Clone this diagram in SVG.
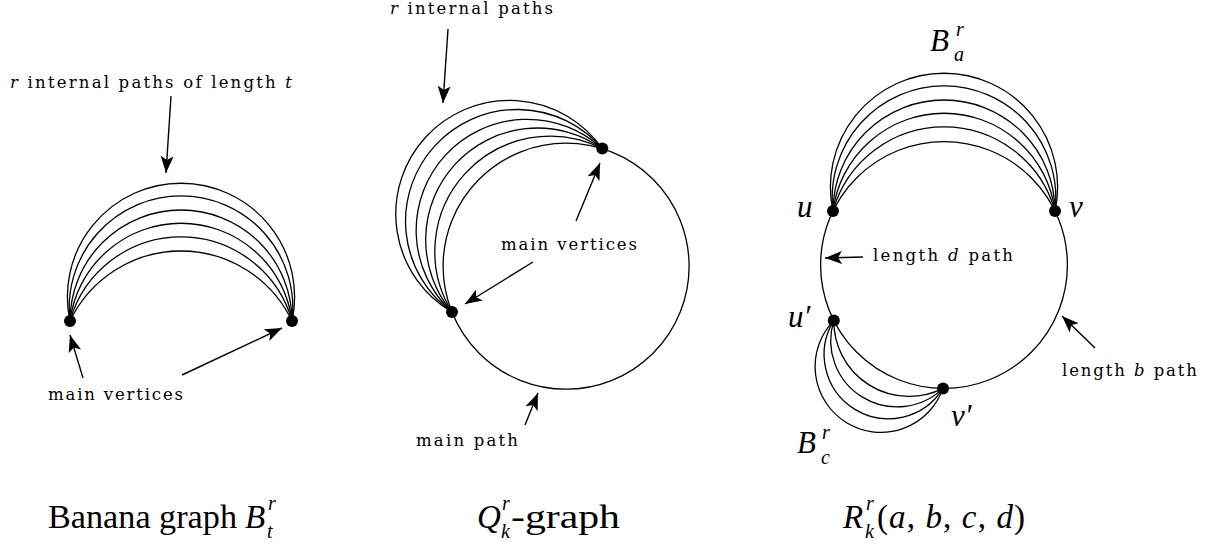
<svg xmlns="http://www.w3.org/2000/svg" width="1206" height="544" viewBox="0 0 1206 544">
<style>
.e{fill:none;stroke:#000;stroke-width:1.3}
.a{fill:none;stroke:#000;stroke-width:1.4;marker-end:url(#ah)}
.d{fill:#000}
.s{font-family:"DejaVu Serif",serif;font-size:16.5px;fill:#000}
.m{font-family:"Liberation Serif",serif;font-style:italic;font-size:31px;fill:#000}
.sc{font-family:"Liberation Serif",serif;font-style:italic;font-size:20px;fill:#000}
.c{font-family:"Liberation Serif",serif;font-size:33px;fill:#000}
.i{font-style:italic}
</style>
<defs>
<marker id="ah" markerUnits="userSpaceOnUse" markerWidth="18" markerHeight="14" refX="17" refY="6.5" orient="auto"><path d="M0,0 L17,6.5 L0,13 L4,6.5 z" fill="#000"/></marker>
<g id="fan5">
<path class="e" d="M0,0 A113.6,113.6 0 1 1 222,0"/>
<path class="e" d="M0,0 A111.8,111.8 0 1 1 222,0"/>
<path class="e" d="M0,0 A111,111 0 1 1 222,0"/>
<path class="e" d="M0,0 A111.9,111.9 0 0 1 222,0"/>
<path class="e" d="M0,0 A115.3,115.3 0 0 1 222,0"/>
</g>
</defs>

<g id="banana">
<g transform="translate(70,321)">
<use href="#fan5"/>
<path class="e" d="M0,0 A123,123 0 0 1 222,0"/>
</g>
<circle class="d" cx="70" cy="321" r="6"/>
<circle class="d" cx="292" cy="321" r="6"/>
</g>

<g id="q-graph">
<g transform="translate(452,312) rotate(-47.38)">
<use href="#fan5"/>
</g>
<circle class="e" cx="566.1" cy="266.2" r="123"/>
<circle class="d" cx="452" cy="312" r="6"/>
<circle class="d" cx="602.3" cy="148.6" r="6"/>
</g>

<g id="r-graph">
<g transform="translate(833,211)">
<use href="#fan5"/>
</g>
<circle class="e" cx="944" cy="265" r="123.4"/>
<g transform="translate(833.8,320.6) rotate(31.83)">
<path class="e" d="M0,0 A65.8,65.8 0 1 0 128.5,0"/>
<path class="e" d="M0,0 A64.25,64.25 0 0 0 128.5,0"/>
<path class="e" d="M0,0 A66.3,66.3 0 0 0 128.5,0"/>
<path class="e" d="M0,0 A75.3,75.3 0 0 0 128.5,0"/>
</g>
<circle class="d" cx="833" cy="211" r="6"/>
<circle class="d" cx="1055" cy="211" r="6"/>
<circle class="d" cx="833.8" cy="320.6" r="6"/>
<circle class="d" cx="943" cy="388.4" r="6"/>
</g>

<g id="connectors">
<line class="a" x1="171" y1="96" x2="166" y2="173"/>
<line class="a" x1="83" y1="378" x2="70" y2="335"/>
<line class="a" x1="182" y1="375" x2="282" y2="328"/>
<line class="a" x1="448" y1="29" x2="443" y2="103"/>
<line class="a" x1="576" y1="221" x2="600" y2="163"/>
<line class="a" x1="533" y1="262" x2="465" y2="304"/>
<line class="a" x1="525" y1="425" x2="538" y2="393"/>
<line class="a" x1="863" y1="257" x2="825" y2="258"/>
<line class="a" x1="1095" y1="348" x2="1062" y2="316"/>
</g>

<g id="labels">
<text class="s" x="10" y="88" textLength="282" lengthAdjust="spacing"><tspan class="i">r</tspan> internal paths of length <tspan class="i">t</tspan></text>
<text class="s" x="48" y="400" textLength="135" lengthAdjust="spacing">main vertices</text>
<text class="s" x="390" y="14" textLength="163" lengthAdjust="spacing"><tspan class="i">r</tspan> internal paths</text>
<text class="s" x="501" y="250" textLength="136" lengthAdjust="spacing">main vertices</text>
<text class="s" x="416" y="446" textLength="102" lengthAdjust="spacing">main path</text>
<text class="s" x="873" y="261" textLength="140" lengthAdjust="spacing">length <tspan class="i">d</tspan> path</text>
<text class="s" x="1062" y="376" textLength="135" lengthAdjust="spacing">length <tspan class="i">b</tspan> path</text>

<text class="m" x="930" y="51" font-size="34">B</text>
<text class="sc" x="956" y="36">r</text>
<text class="sc" x="954" y="61">a</text>
<text class="m" x="797" y="217" font-size="33">u</text>
<text class="m" x="1069" y="217" font-size="33">v</text>
<text class="m" x="788" y="327" font-size="33">u′</text>
<text class="m" x="951" y="426" font-size="33">v′</text>
<text class="m" x="797" y="453" font-size="34">B</text>
<text class="sc" x="822" y="439">r</text>
<text class="sc" x="821" y="464">c</text>

<text class="c" x="48" y="528" textLength="189" lengthAdjust="spacingAndGlyphs">Banana graph</text>
<text class="c i" x="245" y="528">B</text>
<text class="sc" x="268" y="510">r</text>
<text class="sc" x="267" y="538">t</text>

<text class="c i" x="477" y="528">Q</text>
<text class="sc" x="502" y="510">r</text>
<text class="sc" x="501" y="538">k</text>
<text class="c" x="511" y="528" textLength="109" lengthAdjust="spacingAndGlyphs">-graph</text>

<text class="c i" x="843" y="528">R</text>
<text class="sc" x="866" y="510">r</text>
<text class="sc" x="865" y="538">k</text>
<text class="c" x="877" y="528" textLength="148" lengthAdjust="spacing">(<tspan class="i">a</tspan>, <tspan class="i">b</tspan>, <tspan class="i">c</tspan>, <tspan class="i">d</tspan>)</text>
</g>
</svg>
